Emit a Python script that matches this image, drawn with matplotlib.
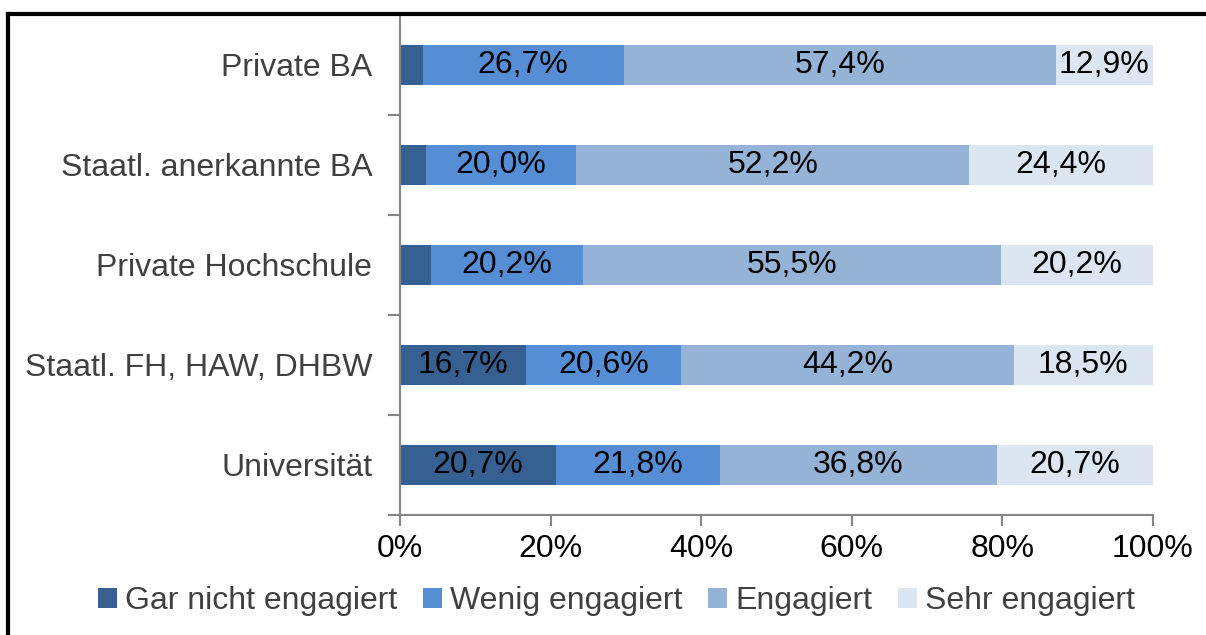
import numpy as np
import matplotlib
matplotlib.use("Agg")
import matplotlib.pyplot as plt
from matplotlib.lines import Line2D
from matplotlib.ticker import FixedLocator

plt.rcParams['font.family'] = ['Liberation Sans', 'DejaVu Sans']

# Daten (von oben nach unten)
kategorien = ["Private BA", "Staatl. anerkannte BA", "Private Hochschule",
              "Staatl. FH, HAW, DHBW", "Universität"]
gar_nicht = [3.0, 3.4, 4.1, 16.7, 20.7]
wenig = [26.7, 20.0, 20.2, 20.6, 21.8]
engagiert = [57.4, 52.2, 55.5, 44.2, 36.8]
sehr = [12.9, 24.4, 20.2, 18.5, 20.7]

serien = ["Gar nicht engagiert", "Wenig engagiert", "Engagiert", "Sehr engagiert"]
farben = ["#376092", "#558ED5", "#95B3D7", "#DCE6F2"]
x_ticks = [0, 20, 40, 60, 80, 100]

fs = 23

fig = plt.figure(figsize=(12.06, 6.35), dpi=100)
ax = fig.add_axes([400 / 1206, 1 - 515 / 635, 753 / 1206, 500 / 635])

y = np.arange(len(kategorien))
werte = [gar_nicht, wenig, engagiert, sehr]
links = np.zeros(len(kategorien))
for name, vals, farbe in zip(serien, werte, farben):
    vals = np.array(vals)
    ax.barh(y, vals, left=links, height=0.4, color=farbe, label=name)
    for yi, l, v in zip(y, links, vals):
        if v >= 10:
            ax.text(l + v / 2, yi, f"{v:.1f}%".replace(".", ","), ha="center",
                    va="center", fontsize=fs, color="black")
    links += vals

ax.set_xlim(0, 100)
ax.set_ylim(len(kategorien) - 0.5, -0.5)
ax.set_xticks(x_ticks)
ax.set_xticklabels([f"{t}%" for t in x_ticks], fontsize=fs)
ax.set_yticks(y)
ax.set_yticklabels(kategorien, fontsize=fs, color="#404040")
ax.yaxis.set_minor_locator(FixedLocator(np.arange(-0.5, len(kategorien), 1.0)))
ax.tick_params(axis="y", which="major", length=0, pad=20)
ax.tick_params(axis="y", which="minor", length=9, color="#868686", width=1.5)
ax.tick_params(axis="x", length=8, color="#868686", width=1.5, pad=6)

for s in ["top", "right"]:
    ax.spines[s].set_visible(False)
for s in ["left", "bottom"]:
    ax.spines[s].set_color("#868686")
    ax.spines[s].set_linewidth(1.5)

fig.legend(loc="center", bbox_to_anchor=(0.511, 1 - 601 / 635), ncol=4, frameon=False,
           fontsize=fs, handlelength=0.6, handleheight=0.6, handletextpad=0.25,
           columnspacing=0.8, labelcolor="#404040")

# Rahmen
fig.add_artist(Line2D([8 / 1206, 8 / 1206], [0, 1 - 14 / 635], color="black", lw=3,
                      transform=fig.transFigure))
fig.add_artist(Line2D([8 / 1206, 1], [1 - 14 / 635, 1 - 14 / 635], color="black", lw=3,
                      transform=fig.transFigure))

fig.savefig("out.png", dpi=100)
